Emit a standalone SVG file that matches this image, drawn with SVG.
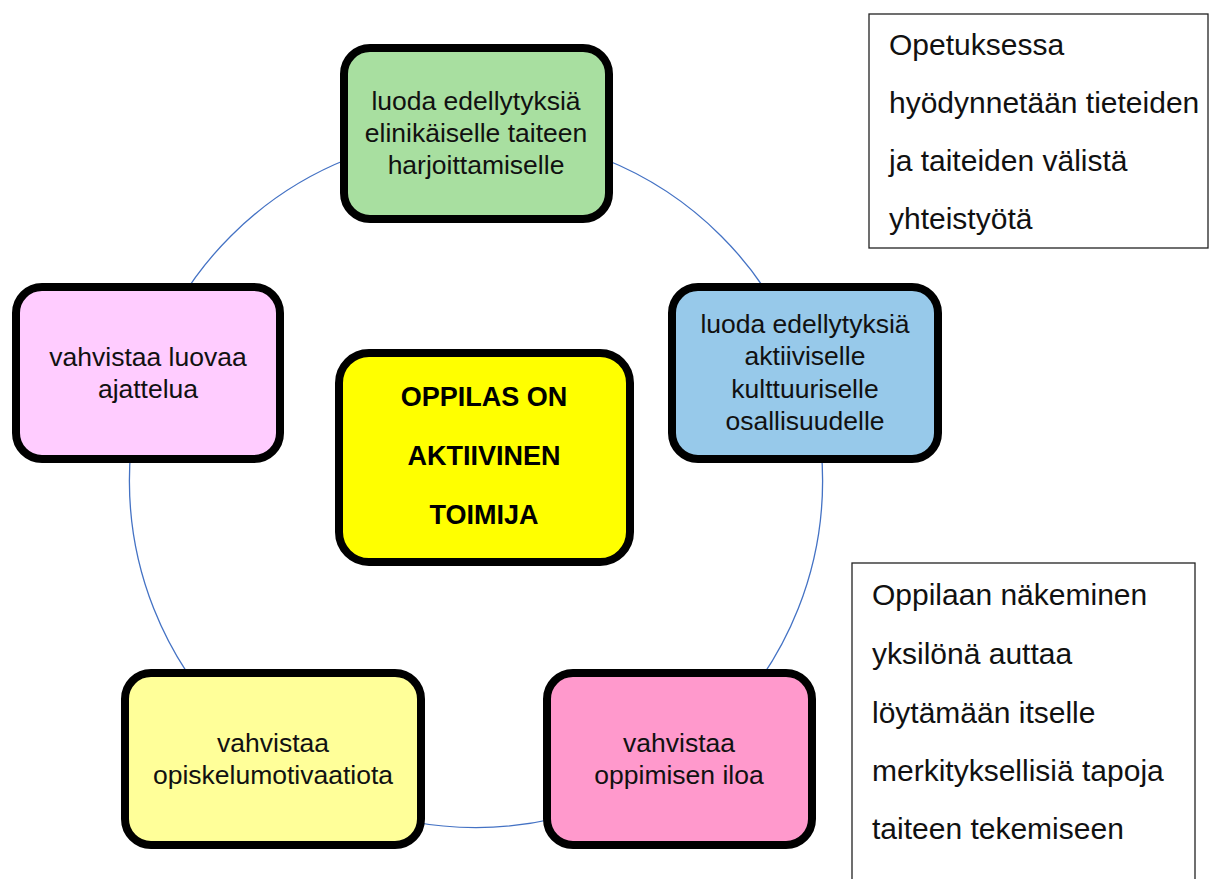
<svg xmlns="http://www.w3.org/2000/svg" width="1209" height="879" viewBox="0 0 1209 879">
<style>
.node{stroke:#000;stroke-width:8}
.t{font-family:"Liberation Sans",Arial,sans-serif;font-size:26.5px;fill:#111;text-anchor:middle}
.b{font-family:"Liberation Sans",Arial,sans-serif;font-size:27px;font-weight:bold;fill:#000;text-anchor:middle}
.box{fill:#fff;stroke:#222;stroke-width:1.3}
.bt{font-family:"Liberation Sans",Arial,sans-serif;font-size:30px;fill:#111}
</style>
<rect width="1209" height="879" fill="#fff"/>
<g id="connectors">
<circle cx="476" cy="481" r="346.6" fill="none" stroke="#4472C4" stroke-width="1.3"/>
</g>
<g id="node-green">
<rect class="node" x="344" y="48" width="265" height="171" rx="26" fill="#A8DFA0"/>
<text class="t" x="476" y="110">luoda edellytyksiä</text>
<text class="t" x="476" y="142">elinikäiselle taiteen</text>
<text class="t" x="476" y="174">harjoittamiselle</text>
</g>
<g id="node-blue">
<rect class="node" x="672" y="287" width="266" height="172" rx="26" fill="#97C9EA"/>
<text class="t" x="805" y="333">luoda edellytyksiä</text>
<text class="t" x="805" y="365">aktiiviselle</text>
<text class="t" x="805" y="398">kulttuuriselle</text>
<text class="t" x="805" y="430">osallisuudelle</text>
</g>
<g id="node-lilac">
<rect class="node" x="16" y="287" width="264" height="172" rx="26" fill="#FFCCFF"/>
<text class="t" x="148" y="366">vahvistaa luovaa</text>
<text class="t" x="148" y="398">ajattelua</text>
</g>
<g id="node-lightyellow">
<rect class="node" x="125" y="673" width="296" height="172" rx="26" fill="#FFFF99"/>
<text class="t" x="273" y="752">vahvistaa</text>
<text class="t" x="273" y="784">opiskelumotivaatiota</text>
</g>
<g id="node-pink">
<rect class="node" x="547" y="673" width="265" height="172" rx="26" fill="#FF99CC"/>
<text class="t" x="679" y="752">vahvistaa</text>
<text class="t" x="679" y="784">oppimisen iloa</text>
</g>
<g id="node-center">
<rect class="node" x="339" y="353" width="291" height="209" rx="30" fill="#FFFF00"/>
<text class="b" x="484" y="406">OPPILAS ON</text>
<text class="b" x="484" y="465">AKTIIVINEN</text>
<text class="b" x="484" y="524">TOIMIJA</text>
</g>
<g id="note-1">
<rect class="box" x="869" y="14" width="339" height="234"/>
<text class="bt" x="889" y="55">Opetuksessa</text>
<text class="bt" x="889" y="113">hyödynnetään tieteiden</text>
<text class="bt" x="889" y="171">ja taiteiden välistä</text>
<text class="bt" x="889" y="229">yhteistyötä</text>
</g>
<g id="note-2">
<rect class="box" x="852" y="563" width="343" height="330"/>
<text class="bt" x="872" y="605">Oppilaan näkeminen</text>
<text class="bt" x="872" y="664">yksilönä auttaa</text>
<text class="bt" x="872" y="723">löytämään itselle</text>
<text class="bt" x="872" y="781">merkityksellisiä tapoja</text>
<text class="bt" x="872" y="839">taiteen tekemiseen</text>
</g>
</svg>
